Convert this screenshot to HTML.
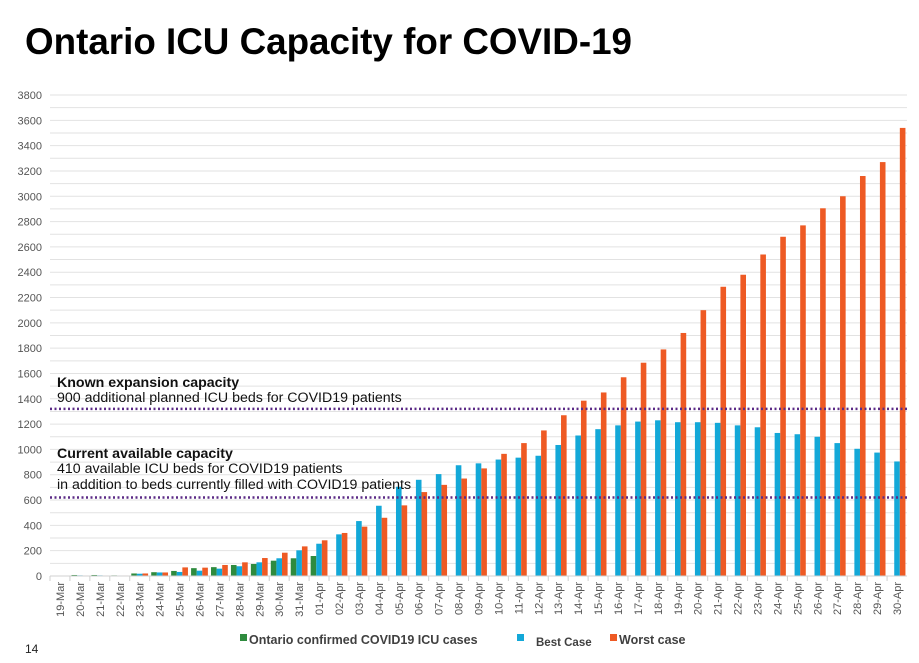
<!DOCTYPE html>
<html><head><meta charset="utf-8"><style>
body{margin:0;background:#fff;}
svg{display:block;font-family:"Liberation Sans",sans-serif;}
</style></head><body>
<svg id="chart" width="919" height="663" viewBox="0 0 919 663">
<text x="25" y="54" font-size="37" font-weight="bold" textLength="607" lengthAdjust="spacingAndGlyphs">Ontario ICU Capacity for COVID-19</text>
<g id="grid"></g><g id="yticks"></g><g id="bars"></g><g id="xticks"></g><g id="annot"></g>
<g font-size="12.5" font-weight="bold" fill="#404040">
<rect x="240" y="634" width="7" height="7" fill="#2e8b3e"/>
<text x="249" y="644">Ontario confirmed COVID19 ICU cases</text>
<rect x="517" y="634" width="7" height="7" fill="#13a8d8"/>
<text x="536" y="646" font-size="11.5">Best Case</text>
<rect x="610" y="634" width="7" height="7" fill="#ee5a24"/>
<text x="619" y="644">Worst case</text>
</g>
<text x="25" y="653" font-size="12" fill="#222">14</text>
</svg>
<script>
const categories=["19-Mar","20-Mar","21-Mar","22-Mar","23-Mar","24-Mar","25-Mar","26-Mar","27-Mar","28-Mar","29-Mar","30-Mar","31-Mar","01-Apr","02-Apr","03-Apr","04-Apr","05-Apr","06-Apr","07-Apr","08-Apr","09-Apr","10-Apr","11-Apr","12-Apr","13-Apr","14-Apr","15-Apr","16-Apr","17-Apr","18-Apr","19-Apr","20-Apr","21-Apr","22-Apr","23-Apr","24-Apr","25-Apr","26-Apr","27-Apr","28-Apr","29-Apr","30-Apr"];
const confirmed=[3,8,8,5,20,30,40,62,70,87,95,121,140,158,null,null,null,null,null,null,null,null,null,null,null,null,null,null,null,null,null,null,null,null,null,null,null,null,null,null,null,null,null];
const bestCase=[2,5,5,4,18,28,32,42,58,77,108,140,203,255,329,434,555,705,760,805,875,890,920,935,950,1035,1110,1160,1190,1220,1230,1215,1215,1210,1190,1175,1130,1120,1100,1050,1005,975,905];
const worstCase=[2,4,4,4,20,28,68,66,87,108,142,184,234,282,340,390,460,558,663,720,770,850,965,1050,1150,1270,1385,1450,1570,1685,1790,1920,2100,2285,2380,2540,2680,2770,2905,3000,3160,3270,3540];
const yTicks=[0,200,400,600,800,1000,1200,1400,1600,1800,2000,2200,2400,2600,2800,3000,3200,3400,3600,3800];
const capacityLines=[1320,620];
const NS="http://www.w3.org/2000/svg";
const x0=50,x1=907,yBase=576,yTop=95,yMax=3800;
const bw=(x1-x0)/categories.length;
const y=v=>yBase-(v/yMax)*(yBase-yTop);
const xc=i=>x0+bw*(i+0.5);
function mk(tag,attrs,parent){const e=document.createElementNS(NS,tag);for(const k in attrs)e.setAttribute(k,attrs[k]);document.getElementById(parent).appendChild(e);return e;}
for(let v=0;v<=yMax;v+=100){
 const l=mk('line',{x1:x0,x2:x1,y1:y(v),y2:y(v),stroke:'#e2e2e2','stroke-width':1},'grid');
 
 
}
yTicks.forEach(v=>{const t=mk('text',{x:42,y:y(v)+4,'text-anchor':'end','font-size':11,fill:'#555'},'yticks');t.textContent=v;
 
 });
const bwid=5.6;
const series=[[confirmed,'#2e8b3e',-1,'bar-confirmed'],[bestCase,'#13a8d8',0,'bar-best-case'],[worstCase,'#ee5a24',1,'bar-worst-case']];
categories.forEach((c,i)=>{
 series.forEach(([arr,col,off,nm])=>{const v=arr[i];if(v==null)return;
  const r=mk('rect',{x:xc(i)+off*bwid-bwid/2,y:y(v),width:bwid,height:yBase-y(v),fill:col},'bars');
  
  });
 const tk=mk('line',{x1:x0+bw*i,x2:x0+bw*i,y1:yBase,y2:yBase+5,stroke:'#d0d0d0'},'xticks');
 
 
 const t=mk('text',{x:0,y:0,'font-size':11,fill:'#555','text-anchor':'end',transform:`translate(${xc(i)+4},${yBase+6}) rotate(-90)`},'xticks');
 t.textContent=c;
 
 
});
const ax=mk('line',{x1:x0,x2:x1,y1:yBase,y2:yBase,stroke:'#d0d0d0'},'xticks');


capacityLines.forEach(v=>{const l=mk('line',{x1:x0,x2:x1,y1:y(v),y2:y(v),stroke:'#5b2a86','stroke-width':2.5,'stroke-dasharray':'2,2.5'},'annot');
 
 });
const notes=[["Known expansion capacity",387,true],["900 additional planned ICU beds for COVID19 patients",402,false],["Current available capacity",458,true],["410 available ICU beds for COVID19 patients",473,false],["in addition to beds currently filled with COVID19 patients",489,false]];
notes.forEach(([s,yy,b])=>{const t=mk('text',{x:57,y:yy,'font-size':14.2,'font-weight':b?'bold':'normal',fill:'#111'},'annot');t.textContent=s;
 
 });
</script>
</body></html>
